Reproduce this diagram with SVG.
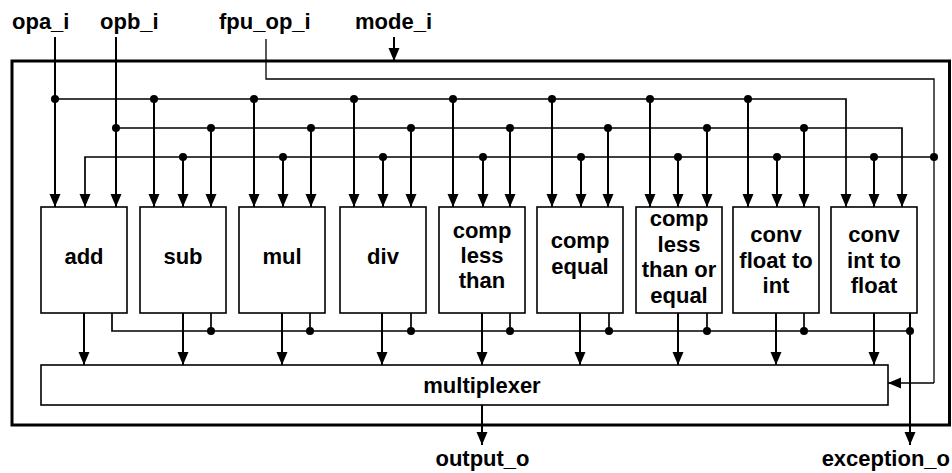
<svg xmlns="http://www.w3.org/2000/svg" width="952" height="473" viewBox="0 0 952 473">
<style>
text{font-family:"Liberation Sans",Arial,Helvetica,sans-serif;font-weight:bold;font-size:22px;fill:#000}
.m text{text-anchor:middle}
.box{fill:#fff;stroke:#000;stroke-width:1.6}
.w{fill:none;stroke:#000;stroke-width:2}
.b{fill:none;stroke:#000;stroke-width:1.7}
.t{fill:none;stroke:#000;stroke-width:1.3}
.a{marker-end:url(#ah)}
.d{fill:#000}
</style>
<defs>
<marker id="ah" markerUnits="userSpaceOnUse" markerWidth="14" markerHeight="12" refX="13" refY="6" orient="auto">
<path d="M0,0.5 L13,6 L0,11.5 z" fill="#000"/>
</marker>
</defs>
<rect id="outer" x="12" y="61" width="937.5" height="364" fill="none" stroke="#000" stroke-width="3"/>
<g id="labels">
<text x="12" y="29">opa_i</text>
<text x="100" y="29">opb_i</text>
<text x="219" y="29">fpu_op_i</text>
<text x="355" y="29">mode_i</text>
<text x="482.5" y="466" text-anchor="middle">output_o</text>
<text x="950" y="466" text-anchor="end">exception_o</text>
</g>
<g id="connectors">
<path class="w a" d="M394,37 V61"/>
<path class="w a" d="M55,37 V207"/>
<path class="b a" d="M55,99 H846 V207"/>
<path class="w a" d="M116,37 V207"/>
<path class="b a" d="M116,128 H902 V207"/>
<path class="t" d="M266,39 V79 H934 V383"/>
<path class="b a" d="M934,383 H888"/>
<path class="b a" d="M934,157 H85 V207"/>
<path class="w a" d="M154,99V207"/><path class="w a" d="M254,99V207"/><path class="w a" d="M354,99V207"/><path class="w a" d="M453,99V207"/><path class="w a" d="M552,99V207"/><path class="w a" d="M650,99V207"/><path class="w a" d="M748,99V207"/>
<path class="w a" d="M211,128V207"/><path class="w a" d="M311,128V207"/><path class="w a" d="M411,128V207"/><path class="w a" d="M510,128V207"/><path class="w a" d="M608,128V207"/><path class="w a" d="M707,128V207"/><path class="w a" d="M804,128V207"/>
<path class="w a" d="M183,157V207"/><path class="w a" d="M283,157V207"/><path class="w a" d="M383,157V207"/><path class="w a" d="M483,157V207"/><path class="w a" d="M581,157V207"/><path class="w a" d="M678,157V207"/><path class="w a" d="M777,157V207"/><path class="w a" d="M874,157V207"/>
<path class="w a" d="M84,313V365"/><path class="w a" d="M183,313V365"/><path class="w a" d="M282,313V365"/><path class="w a" d="M382,313V365"/><path class="w a" d="M482,313V365"/><path class="w a" d="M580,313V365"/><path class="w a" d="M678,313V365"/><path class="w a" d="M776,313V365"/><path class="w a" d="M874,313V365"/>
<path class="b" d="M112,313 V331 H910"/>
<path class="b" d="M211,313V331M310,313V331M411,313V331M510,313V331M609,313V331M707,313V331M804,313V331"/>
<path class="w a" d="M910,313 V445"/>
<path class="w a" d="M482,405 V445"/>
<g class="d">
<circle cx="55" cy="99" r="4"/><circle cx="154" cy="99" r="4"/><circle cx="254" cy="99" r="4"/><circle cx="354" cy="99" r="4"/><circle cx="453" cy="99" r="4"/><circle cx="552" cy="99" r="4"/><circle cx="650" cy="99" r="4"/><circle cx="748" cy="99" r="4"/>
<circle cx="116" cy="128" r="4"/><circle cx="211" cy="128" r="4"/><circle cx="311" cy="128" r="4"/><circle cx="411" cy="128" r="4"/><circle cx="510" cy="128" r="4"/><circle cx="608" cy="128" r="4"/><circle cx="707" cy="128" r="4"/><circle cx="804" cy="128" r="4"/>
<circle cx="183" cy="157" r="4"/><circle cx="283" cy="157" r="4"/><circle cx="383" cy="157" r="4"/><circle cx="483" cy="157" r="4"/><circle cx="581" cy="157" r="4"/><circle cx="678" cy="157" r="4"/><circle cx="777" cy="157" r="4"/><circle cx="874" cy="157" r="4"/><circle cx="934" cy="157" r="4"/>
<circle cx="211" cy="331" r="4"/><circle cx="310" cy="331" r="4"/><circle cx="411" cy="331" r="4"/><circle cx="510" cy="331" r="4"/><circle cx="609" cy="331" r="4"/><circle cx="707" cy="331" r="4"/><circle cx="804" cy="331" r="4"/><circle cx="910" cy="331" r="4"/>
</g>
</g>
<g class="m">
<g id="add"><rect class="box" x="41" y="207" width="86" height="106"/><text x="84" y="264">add</text></g>
<g id="sub"><rect class="box" x="140" y="207" width="86" height="106"/><text x="183" y="264">sub</text></g>
<g id="mul"><rect class="box" x="239" y="207" width="86" height="106"/><text x="282" y="264">mul</text></g>
<g id="div"><rect class="box" x="340" y="207" width="86" height="106"/><text x="383" y="264">div</text></g>
<g id="comp_lt"><rect class="box" x="439" y="207" width="86" height="106"/><text x="482" y="238">comp</text><text x="482" y="263">less</text><text x="482" y="288">than</text></g>
<g id="comp_eq"><rect class="box" x="537" y="207" width="86" height="106"/><text x="580" y="248">comp</text><text x="580" y="274">equal</text></g>
<g id="comp_le"><rect class="box" x="636" y="207" width="86" height="106"/><text x="679" y="226">comp</text><text x="679" y="252">less</text><text x="679" y="277">than or</text><text x="679" y="303">equal</text></g>
<g id="conv_f2i"><rect class="box" x="733" y="207" width="86" height="106"/><text x="776" y="242">conv</text><text x="776" y="268">float to</text><text x="776" y="293">int</text></g>
<g id="conv_i2f"><rect class="box" x="831" y="207" width="86" height="106"/><text x="874" y="242">conv</text><text x="874" y="268">int to</text><text x="874" y="293">float</text></g>
<g id="multiplexer"><rect class="box" x="41" y="365" width="847" height="40"/><text x="482" y="393">multiplexer</text></g>
</g>
</svg>
